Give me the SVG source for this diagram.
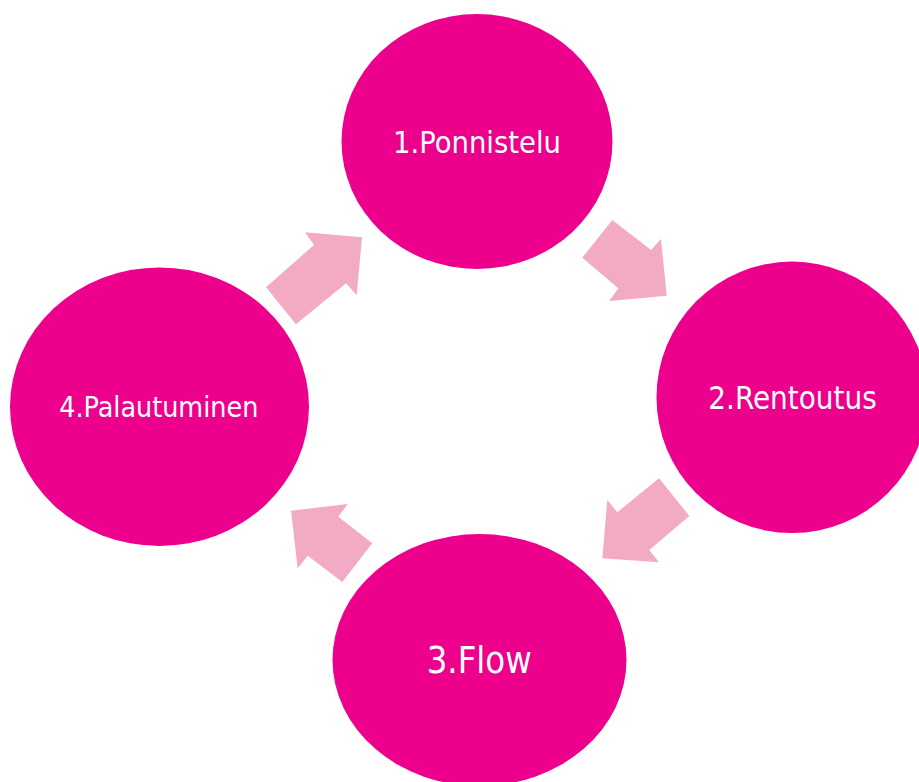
<svg xmlns="http://www.w3.org/2000/svg" width="919" height="782" viewBox="0 0 919 782">
<style>
.node{fill:#EC008C}
.arrow{fill:#F2AAC5}
.lbl{fill:#FFFFFF;font-family:"DejaVu Sans Condensed","DejaVu Sans","Noto Sans",sans-serif;text-anchor:middle}
</style>
<rect width="919" height="782" fill="#FFFFFF"/>
<g id="connectors">
<polygon class="arrow" points="266,287.3 296,324.3 346,283.3 356.7,295 362,237.3 305,232.3 314,245"/>
<polygon class="arrow" points="612.3,220 582.3,257.7 618.3,288.3 609.3,301 666.7,295.7 661,239 651,250"/>
<polygon class="arrow" points="659,478.3 689.3,516 649.3,550 659,562.3 602.3,558.3 607.3,500 617.3,512.3"/>
<polygon class="arrow" points="372.3,543.3 342.3,582 307.7,555.7 297.7,568.3 291,510.7 347.7,504 338.3,516.7"/>
</g>
<g id="node1">
<ellipse class="node" cx="477" cy="141.5" rx="135.5" ry="127.5"/>
<text class="lbl" x="477" y="153.3" font-size="31" textLength="168" lengthAdjust="spacingAndGlyphs">1.Ponnistelu</text>
</g>
<g id="node2">
<ellipse class="node" cx="792" cy="397.3" rx="135.5" ry="135.7"/>
<text class="lbl" x="792.5" y="409" font-size="31.5" textLength="168.4" lengthAdjust="spacingAndGlyphs">2.Rentoutus</text>
</g>
<g id="node3">
<ellipse class="node" cx="479.5" cy="660" rx="147" ry="126"/>
<text class="lbl" x="479.2" y="673.3" font-size="37.5" textLength="105" lengthAdjust="spacingAndGlyphs">3.Flow</text>
</g>
<g id="node4">
<ellipse class="node" cx="159.5" cy="406.7" rx="149.5" ry="139.3"/>
<text class="lbl" x="158.8" y="416.7" font-size="29" textLength="199" lengthAdjust="spacingAndGlyphs">4.Palautuminen</text>
</g>
</svg>
